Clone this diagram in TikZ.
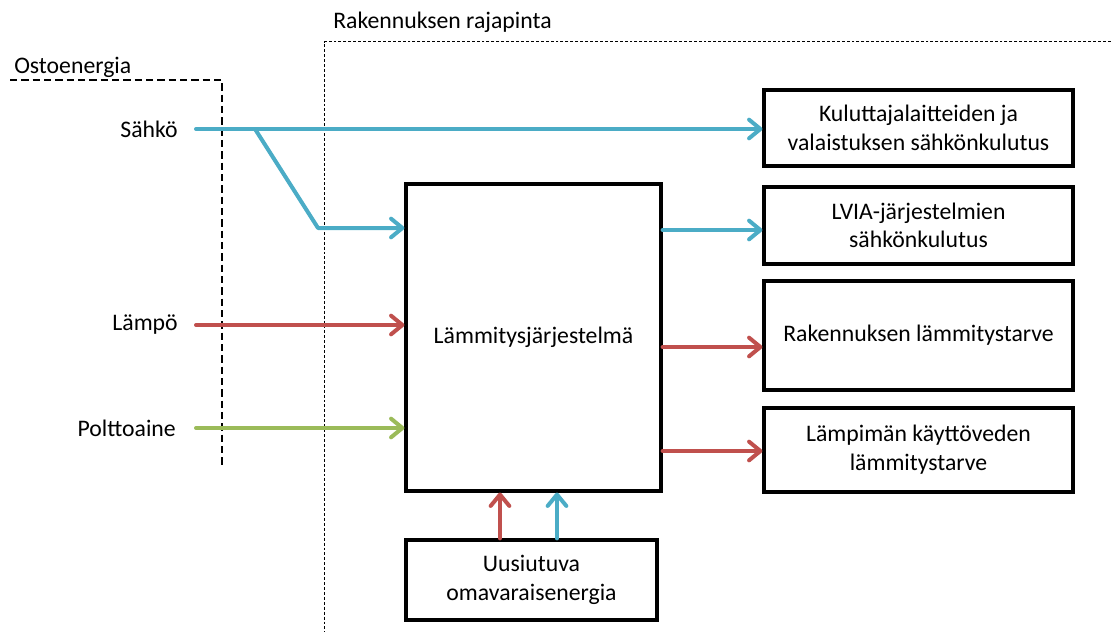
\documentclass[tikz,border=0pt]{standalone}
\usepackage{fontspec}
\setmainfont{Carlito}
\usetikzlibrary{arrows.meta}
\definecolor{flowblue}{HTML}{4BACC6}
\definecolor{flowred}{HTML}{C0504D}
\definecolor{flowgreen}{HTML}{9BBB59}
\begin{document}
\begin{tikzpicture}[x=0.75pt,y=-0.75pt,
  every node/.style={font=\fontsize{17.8}{21.5}\selectfont, inner sep=0pt},
  box/.style={draw, line width=2.4pt, align=center},
  flow/.style={line width=3pt, line cap=round, line join=round,
    -{Straight Barb[length=8.5pt,width=14pt,line cap=round,line join=round]}},
  outerbound/.style={line width=1.6pt, dash pattern=on 5.5pt off 3pt},
  innerbound/.style={line width=0.75pt, dash pattern=on 2.2pt off 1.5pt}]
\useasboundingbox (0,0) rectangle (1111,635);

% system boundaries
\draw[outerbound] (10,80) -- (222,80) -- (222,465);
\draw[innerbound] (1111,42) -- (324,42) -- (324,632);
\node[anchor=west] (osto) at (14,67) {Ostoenergia};
\node[anchor=west] (raja) at (333,22) {Rakennuksen rajapinta};

% boxes
\node[box, minimum width=191.25pt, minimum height=230.25pt] (main) at (533.5,337.5) {Lämmitysjärjestelmä};
\node[box, minimum width=231.75pt, minimum height=57pt] (kulut) at (918.5,128) {Kuluttajalaitteiden ja\\valaistuksen sähkönkulutus};
\node[box, minimum width=231.75pt, minimum height=57.75pt] (lvia) at (918.5,225.5) {LVIA-järjestelmien\\sähkönkulutus};
\node[box, minimum width=231.75pt, minimum height=81.75pt] (lamm) at (918.5,335.5) {Rakennuksen lämmitystarve};
\node[box, minimum width=231.75pt, minimum height=63pt] (kayttovesi) at (918.5,450) {Lämpimän käyttöveden\\lämmitystarve};
\node[box, minimum width=188.25pt, minimum height=60pt] (uusiutuva) at (531.5,580) {Uusiutuva\\omavaraisenergia};

% purchased energy labels
\node[anchor=east] (sahko) at (178,129) {Sähkö};
\node[anchor=east] (lampo) at (178,325) {Lämpö};
\node[anchor=east] (poltto) at (176,428) {Polttoaine};

% electricity
\coordinate (split) at (255,129);
\coordinate (bend) at (318,228);
\draw[flow, flowblue] ([xshift=13.5pt]sahko.east) -- (kulut.west |- sahko.east);
\draw[flow, flowblue] (split) -- (bend) -- (main.west |- bend);
\draw[flow, flowblue] (main.east |- 0,230) -- (lvia.west |- 0,230);

% heat and fuel
\draw[flow, flowred] ([xshift=13.5pt]lampo.east) -- (main.west |- lampo.east);
\draw[flow, flowgreen] ([xshift=15pt]poltto.east) -- (main.west |- poltto.east);
\draw[flow, flowred] (main.east |- 0,347) -- (lamm.west |- 0,347);
\draw[flow, flowred] (main.east |- 0,451) -- (kayttovesi.west |- 0,451);

% renewable self-produced energy
\draw[flow, flowred] (uusiutuva.north -| 500,0) -- (main.south -| 500,0);
\draw[flow, flowblue] (uusiutuva.north -| 557,0) -- (main.south -| 557,0);
\end{tikzpicture}
\end{document}
